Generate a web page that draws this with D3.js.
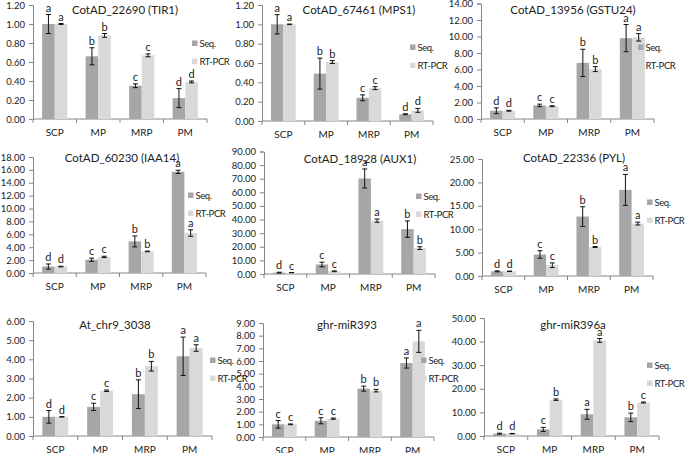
<!DOCTYPE html>
<html>
<head>
<meta charset="utf-8">
<script src="https://cdn.jsdelivr.net/npm/d3@7"></script>
<style>
  body { margin: 0; background: #fff; }
  svg { display: block; font-family: Lato, "Open Sans", sans-serif; }
</style>
</head>
<body>
<div id="chart"></div>
<script>
// Chart data, one entry per panel
const categories = ['SCP', 'MP', 'MRP', 'PM'];
const seriesNames = ['Seq.', 'RT-PCR'];
const titles = ['CotAD_22690 (TIR1)', 'CotAD_67461 (MPS1)', 'CotAD_13956 (GSTU24)',
    'CotAD_60230 (IAA14)', 'CotAD_18928 (AUX1)', 'CotAD_22336 (PYL)',
    'At_chr9_3038', 'ghr-miR393', 'ghr-miR396a'];
const yMax = [1.2, 1.2, 14, 18, 90, 25, 6, 9, 50];
const yStep = [0.2, 0.2, 2, 2, 10, 5, 1, 1, 10];

const seqValues = [
    [1.00, 0.66, 0.35, 0.22],
    [1.00, 0.49, 0.24, 0.07],
    [1.00, 1.65, 6.8, 9.8],
    [1.00, 2.06, 4.9, 15.7],
    [1.00, 7.0, 70.2, 33.0],
    [1.00, 4.6, 12.7, 18.4],
    [1.00, 1.52, 2.18, 4.16],
    [1.00, 1.28, 3.82, 5.84],
    [1.00, 2.8, 9.2, 7.9]
];
const seqErrors = [
    [0.10, 0.09, 0.02, 0.10],
    [0.10, 0.16, 0.03, 0.005],
    [0.35, 0.15, 1.65, 1.65],
    [0.40, 0.25, 0.85, 0.25],
    [0.3, 1.7, 7.0, 6.0],
    [0.1, 0.8, 2.1, 3.3],
    [0.33, 0.19, 0.75, 1.0],
    [0.3, 0.24, 0.2, 0.4],
    [0.2, 0.85, 2.1, 1.8]
];
const rtValues = [
    [1.00, 0.88, 0.67, 0.39],
    [1.00, 0.61, 0.34, 0.11],
    [1.00, 1.55, 6.05, 9.9],
    [1.00, 2.5, 3.35, 6.2],
    [1.00, 2.0, 39.2, 19.0],
    [1.00, 2.3, 6.2, 11.2],
    [1.00, 2.36, 3.64, 4.59],
    [1.00, 1.45, 3.66, 7.55],
    [1.00, 15.4, 40.5, 14.2]
];
const rtErrors = [
    [0.005, 0.02, 0.015, 0.01],
    [0.003, 0.015, 0.015, 0.02],
    [0.05, 0.05, 0.3, 0.45],
    [0.05, 0.1, 0.05, 0.5],
    [0.1, 0.3, 1.2, 1.0],
    [0.05, 0.5, 0.1, 0.3],
    [0.01, 0.04, 0.25, 0.17],
    [0.03, 0.05, 0.1, 0.87],
    [0.1, 0.3, 0.8, 0.2]
];
const seqLetters = [
    ['a', 'b', 'c', 'd'], ['a', 'b', 'c', 'd'], ['d', 'c', 'b', 'a'],
    ['d', 'c', 'b', 'a'], ['d', 'c', 'a', 'b'], ['d', 'c', 'b', 'a'],
    ['d', 'c', 'b', 'a'], ['c', 'c', 'b', 'a'], ['d', 'c', 'a', 'b']
];
const rtLetters = [
    ['a', 'b', 'c', 'd'], ['a', 'b', 'c', 'd'], ['d', 'c', 'b', 'a'],
    ['d', 'c', 'b', 'a'], ['c', 'c', 'a', 'b'], ['d', 'c', 'b', 'a'],
    ['d', 'c', 'b', 'a'], ['c', 'c', 'b', 'a'], ['d', 'b', 'a', 'c']
];

// Panel frames (pixel layout on the page)
const frames = [
    { x0: 33, x1: 207, yTop: 5, yBot: 119, tx: 125, ty: 14, lx: 192, ly: 43 },
    { x0: 262, x1: 433, yTop: 5, yBot: 121, tx: 359, ty: 14, lx: 410, ly: 47 },
    { x0: 481, x1: 654, yTop: 3.5, yBot: 119, tx: 573, ty: 14, lx: 638, ly: 47 },
    { x0: 33, x1: 206, yTop: 157, yBot: 273, tx: 122, ty: 162, lx: 188, ly: 195 },
    { x0: 264, x1: 435, yTop: 151.5, yBot: 274, tx: 360, ty: 163, lx: 416, ly: 196 },
    { x0: 482, x1: 653, yTop: 159, yBot: 276, tx: 574, ty: 162, lx: 647, ly: 202 },
    { x0: 33, x1: 212, yTop: 321, yBot: 436, tx: 115, ty: 329, lx: 210, ly: 360 },
    { x0: 263, x1: 434, yTop: 323, yBot: 437, tx: 347, ty: 329, lx: 421, ly: 360 },
    { x0: 484, x1: 659, yTop: 318, yBot: 436, tx: 573, ty: 329, lx: 647, ly: 365 }
];

const colors = { 'Seq.': '#a6a6a6', 'RT-PCR': '#d9d9d9' };
const textColor = '#222';
const axisColor = '#868686';

const svg = d3.select('#chart').append('svg')
    .attr('width', 685)
    .attr('height', 453);

titles.forEach((title, i) => {
    const f = frames[i];
    const g = svg.append('g');

    const y = d3.scaleLinear().domain([0, yMax[i]]).range([f.yBot, f.yTop]);
    const x0 = d3.scaleBand().domain(categories).range([f.x0, f.x1])
        .paddingInner(0.42).paddingOuter(0.21);
    const x1 = d3.scaleBand().domain(seriesNames).range([0, x0.bandwidth()]);

    const ticks = d3.range(0, yMax[i] + yStep[i] / 2, yStep[i]);
    const yAxis = d3.axisLeft(y).tickValues(ticks).tickFormat(d3.format('.2f'))
        .tickSize(4).tickPadding(4);
    const ya = g.append('g').attr('transform', `translate(${f.x0},0)`).call(yAxis);
    ya.select('.domain').attr('stroke', axisColor);
    ya.selectAll('.tick line').attr('stroke', axisColor);
    ya.selectAll('.tick text').attr('fill', textColor).attr('font-size', 9.5)
        .attr('font-family', 'Lato, sans-serif');

    // x axis baseline with ticks between categories
    g.append('line')
        .attr('x1', f.x0).attr('x2', f.x1)
        .attr('y1', f.yBot).attr('y2', f.yBot)
        .attr('stroke', axisColor);
    const bounds = categories.map(c => x0(c) - x0.step() * 0.21).concat([f.x1]);
    g.selectAll('.xtick').data(bounds).enter().append('line')
        .attr('x1', d => d).attr('x2', d => d)
        .attr('y1', f.yBot).attr('y2', f.yBot + 4)
        .attr('stroke', axisColor);
    g.selectAll('.xlab').data(categories).enter().append('text')
        .attr('x', d => x0(d) + x0.bandwidth() / 2)
        .attr('y', f.yBot + 16.5)
        .attr('text-anchor', 'middle')
        .attr('font-size', 10)
        .attr('fill', textColor)
        .text(d => d);

    const rows = [];
    categories.forEach((c, k) => {
        rows.push({ cat: c, s: 'Seq.', v: seqValues[i][k], e: seqErrors[i][k], l: seqLetters[i][k] });
        rows.push({ cat: c, s: 'RT-PCR', v: rtValues[i][k], e: rtErrors[i][k], l: rtLetters[i][k] });
    });

    const bx = d => x0(d.cat) + x1(d.s);
    const cx = d => bx(d) + x1.bandwidth() / 2;

    g.selectAll('.bar').data(rows).enter().append('rect')
        .attr('x', bx)
        .attr('width', x1.bandwidth())
        .attr('y', d => y(d.v))
        .attr('height', d => f.yBot - y(d.v))
        .attr('fill', d => colors[d.s]);

    // error bars
    const eb = g.selectAll('.err').data(rows).enter().append('g');
    eb.append('line')
        .attr('x1', cx).attr('x2', cx)
        .attr('y1', d => y(d.v + d.e)).attr('y2', d => y(d.v - d.e))
        .attr('stroke', '#111').attr('stroke-width', 1);
    eb.append('line')
        .attr('x1', d => cx(d) - 2.5).attr('x2', d => cx(d) + 2.5)
        .attr('y1', d => y(d.v + d.e)).attr('y2', d => y(d.v + d.e))
        .attr('stroke', '#111').attr('stroke-width', 1);
    eb.append('line')
        .attr('x1', d => cx(d) - 2.5).attr('x2', d => cx(d) + 2.5)
        .attr('y1', d => y(d.v - d.e)).attr('y2', d => y(d.v - d.e))
        .attr('stroke', '#111').attr('stroke-width', 1);

    // significance letters
    g.selectAll('.letter').data(rows).enter().append('text')
        .attr('x', cx)
        .attr('y', d => y(d.v + d.e) - 3)
        .attr('text-anchor', 'middle')
        .attr('font-size', 11)
        .attr('fill', textColor)
        .text(d => d.l);

    g.append('text')
        .attr('x', f.tx).attr('y', f.ty)
        .attr('text-anchor', 'middle')
        .attr('font-size', 11.5)
        .attr('fill', textColor)
        .text(title);

    // legend
    seriesNames.forEach((s, k) => {
        const ly = f.ly + k * 18;
        g.append('rect')
            .attr('x', f.lx).attr('y', ly - 2.5)
            .attr('width', 5.5).attr('height', 5.5)
            .attr('fill', colors[s]);
        g.append('text')
            .attr('x', f.lx + 7.5).attr('y', ly + 3.5)
            .attr('font-size', 9.5)
            .attr('letter-spacing', -0.4)
            .attr('fill', textColor)
            .text(s);
    });
});
</script>
</body>
</html>
